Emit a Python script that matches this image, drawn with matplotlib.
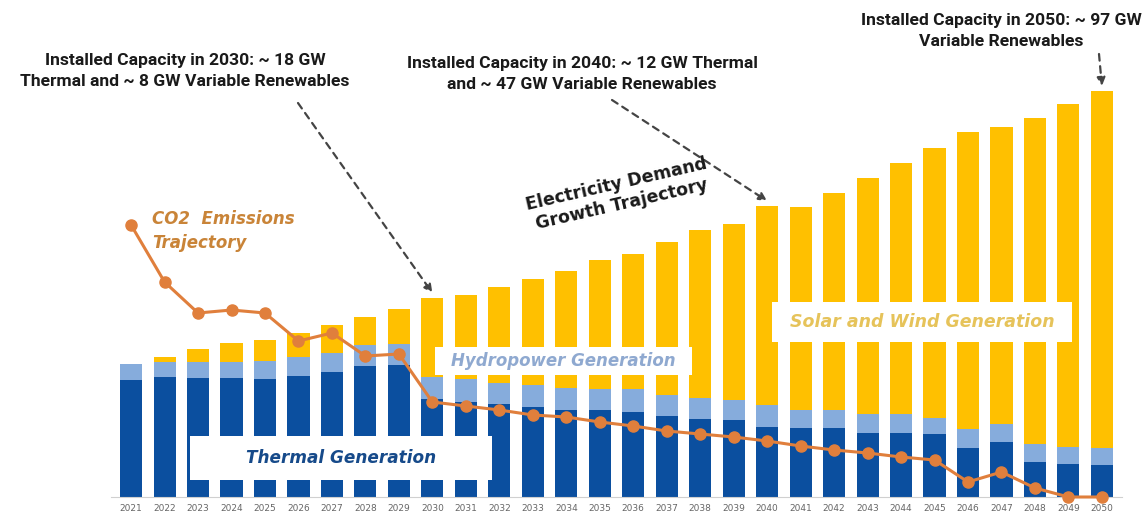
"""
Generation mix and CO2 emissions trajectory, 2021-2050 (relative units, no y-axis).
"""
import matplotlib
matplotlib.use("Agg")
import matplotlib.pyplot as plt
import numpy as np

years = list(range(2021, 2051))

# stacked generation (relative units)
thermal = [117, 120, 119, 119, 118, 121, 125, 131, 132, 98,
           95, 93, 90, 87, 87, 85, 81, 78, 77, 70,
           69, 69, 64, 64, 63, 49, 55, 35, 33, 32]
hydro = [16, 15, 16, 16, 18, 19, 19, 21, 21, 22,
         23, 21, 22, 22, 21, 23, 21, 21, 20, 22,
         18, 18, 19, 19, 16, 19, 18, 18, 17, 17]
solar_wind = [0, 5, 13, 19, 21, 24, 28, 28, 35, 79,
              84, 96, 106, 117, 129, 135, 153, 168, 176, 199,
              203, 217, 236, 251, 270, 297, 297, 326, 343, 357]
co2 = [272, 215, 184, 187, 184, 156, 164, 141, 143, 95,
       91, 87, 82, 80, 75, 71, 66, 63, 60, 56,
       51, 47, 44, 40, 37, 15, 25, 9, 0, 0]

C_THERMAL = "#0b4f9f"
C_HYDRO = "#86acdc"
C_SOLAR = "#ffc000"
C_CO2 = "#e07f3c"

W, H = 1145, 520
fig = plt.figure(figsize=(W / 100, H / 100), dpi=100)
ax = fig.add_axes([111 / W, 23 / H, 1011 / W, 497 / H])

x = np.arange(len(years))
thermal = np.array(thermal)
hydro = np.array(hydro)
solar_wind = np.array(solar_wind)
total = thermal + hydro + solar_wind

bw = 0.66
ax.bar(x, thermal, bw, color=C_THERMAL, zorder=2)
ax.bar(x, hydro, bw, bottom=thermal, color=C_HYDRO, zorder=2)
ax.bar(x, solar_wind, bw, bottom=thermal + hydro, color=C_SOLAR, zorder=2)
ax.plot(x, co2, color=C_CO2, lw=2.2, marker="o", ms=8, zorder=6, clip_on=False)

ax.set_xlim(-0.6, len(years) - 0.4)
ax.set_ylim(0, 497)
ax.set_yticks([])
ax.set_xticks(x)
ax.set_xticklabels(years, fontsize=6.5, color="#666666")
ax.tick_params(axis="x", length=0, pad=5)
for s in ["top", "right", "left"]:
    ax.spines[s].set_visible(False)
ax.spines["bottom"].set_color("#d0d0d0")

# ── labels in white boxes ────────────────────────────────────────────────────
def boxed(xc, yc, w, h, text, color, size):
    fig.patches.append(plt.Rectangle(((xc - w / 2) / W, 1 - (yc + h / 2) / H), w / W, h / H,
                                     transform=fig.transFigure, facecolor="white",
                                     edgecolor="none", zorder=4))
    fig.text(xc / W, 1 - yc / H, text, ha="center", va="center", fontsize=size,
             fontstyle="italic", fontweight="bold", color=color, zorder=5)

boxed(341, 458, 302, 44, "Thermal Generation", "#164a8a", 12.2)
boxed(563, 361, 257, 28, "Hydropower Generation", "#8fa9d0", 12)
boxed(922, 322, 300, 40, "Solar and Wind Generation", "#e6c35a", 12.5)

fig.text(152 / W, 1 - 231 / H, "CO2  Emissions\nTrajectory", ha="left", va="center",
         fontsize=12, fontstyle="italic", fontweight="bold", color="#c98438",
         linespacing=1.45)

fig.text(619 / W, 1 - 194 / H, "Electricity Demand\nGrowth Trajectory", ha="center",
         va="center", fontsize=12.5, fontweight="bold", color="#1a1a1a", rotation=13,
         linespacing=1.2)

# ── capacity callouts with dashed arrows ─────────────────────────────────────
callouts = [
    (2030, 185, 71, 298, 103,
     "Installed Capacity in 2030: ~ 18 GW\nThermal and ~ 8 GW Variable Renewables"),
    (2040, 582, 74, 612, 100,
     "Installed Capacity in 2040: ~ 12 GW Thermal\nand ~ 47 GW Variable Renewables"),
    (2050, 1001, 31, 1099, 54,
     "Installed Capacity in 2050: ~ 97 GW\nVariable Renewables"),
]
for yr, tx, ty, ax0, ay0, label in callouts:
    fig.text(tx / W, 1 - ty / H, label, ha="center", va="center", fontsize=12.6,
             fontweight="bold", family="Roboto", color="#1a1a1a", linespacing=1.5)
    i = years.index(yr)
    ax.annotate("", xy=(i, total[i] + 5), xycoords="data",
                xytext=(ax0 / W, 1 - ay0 / H), textcoords="figure fraction",
                arrowprops=dict(arrowstyle="-|>", linestyle=(0, (3, 2.5)), lw=1.6,
                                color="#444444", mutation_scale=12, shrinkA=0, shrinkB=0),
                zorder=7, annotation_clip=False)

fig.savefig("out.png", dpi=100)
